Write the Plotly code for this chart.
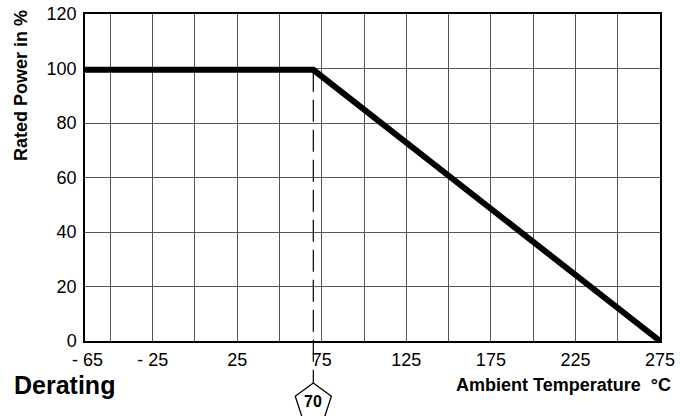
import math
import plotly.graph_objects as go

# ---- data ----
temp_c = [-65, 70, 275]
rated_power_pct = [99.5, 99.5, 0]
knee_temp = 70

x_tickvals = [-65, -25, 25, 75, 125, 175, 225, 275]
x_ticktext = ["\u00a0- 65", "- 25", "25", "75", "125", "175", "225", "275"]
y_tickvals = [0, 20, 40, 60, 80, 100, 120]

FONT = "Liberation Sans, Arial, Helvetica, sans-serif"
GRID = "#555555"

fig = go.Figure()
fig.add_trace(go.Scatter(
    x=temp_c, y=rated_power_pct, mode="lines",
    line=dict(color="black", width=6), hoverinfo="skip", showlegend=False,
    cliponaxis=False,
))

W, H = 681, 416
L, R, T, B = 85, 21, 14, 75
plot_h = H - T - B


def py(pix):
    """pixel row -> paper y"""
    return (H - B - pix) / plot_h


fig.update_layout(
    template="none",
    width=W, height=H,
    margin=dict(l=L, r=R, t=T, b=B, pad=0, autoexpand=False),
    paper_bgcolor="white", plot_bgcolor="white",
    font=dict(family=FONT, size=18, color="black"),
    showlegend=False,
    xaxis=dict(
        range=[-65, 275], tickvals=x_tickvals, ticktext=x_ticktext,
        automargin=False,
        showgrid=True, gridcolor=GRID, gridwidth=1,
        minor=dict(tick0=0, dtick=25, showgrid=True, gridcolor=GRID, gridwidth=1, ticks=""),
        showline=True, linecolor="black", linewidth=1.5, mirror=True,
        ticks="", zeroline=False, tickfont=dict(size=18),
        ticklabelstandoff=2,
    ),
    yaxis=dict(
        range=[0, 120], tickvals=y_tickvals,
        automargin=False,
        showgrid=True, gridcolor=GRID, gridwidth=1,
        showline=True, linecolor="black", linewidth=1.5, mirror=True,
        ticks="", zeroline=False, tickfont=dict(size=18),
        ticklabelstandoff=3,
    ),
)

# dashed marker line at knee temperature
fig.add_shape(type="line", xref="x", yref="paper",
              x0=knee_temp, x1=knee_temp,
              y0=rated_power_pct[1] / 120, y1=py(383),
              line=dict(color="black", width=1.2, dash="22px,8px"))

# pentagon badge
Rr = 19
pts = []
for k in range(5):
    a = math.radians(90 + 72 * k)
    pts.append((Rr * math.cos(a), Rr * math.sin(a)))
path = "M " + " L ".join(f"{px:.2f},{pyy:.2f}" for px, pyy in pts) + " Z"
fig.add_shape(type="path", xref="x", yref="paper",
              xsizemode="pixel", ysizemode="pixel",
              xanchor=knee_temp, yanchor=py(402),
              path=path, line=dict(color="black", width=1.3),
              fillcolor="white")
fig.add_annotation(x=knee_temp, xref="x", y=py(401), yref="paper",
                   text="<b>70</b>", showarrow=False,
                   font=dict(size=16, family=FONT, color="black"),
                   xanchor="center", yanchor="middle")

# titles
fig.add_annotation(xref="paper", yref="paper",
                   x=(21 - L) / (W - L - R), y=py(86),
                   text="<b>Rated Power in %</b>", textangle=-90,
                   showarrow=False, xanchor="center", yanchor="middle",
                   font=dict(size=18, family=FONT, color="black"))
fig.add_annotation(xref="paper", yref="paper",
                   x=(12 - L) / (W - L - R), y=py(385),
                   text="<b>Derating</b>", showarrow=False,
                   xanchor="left", yanchor="middle",
                   font=dict(size=25, family=FONT, color="black"))
fig.add_annotation(xref="paper", yref="paper",
                   x=(673 - L) / (W - L - R), y=py(385),
                   text="<b>Ambient Temperature  °C</b>", showarrow=False,
                   xanchor="right", yanchor="middle",
                   font=dict(size=18, family=FONT, color="black"))

fig.write_html(
    "out.html",
    config={"displayModeBar": False},
    post_script="document.body.style.margin='0';document.body.style.padding='0';",
)
